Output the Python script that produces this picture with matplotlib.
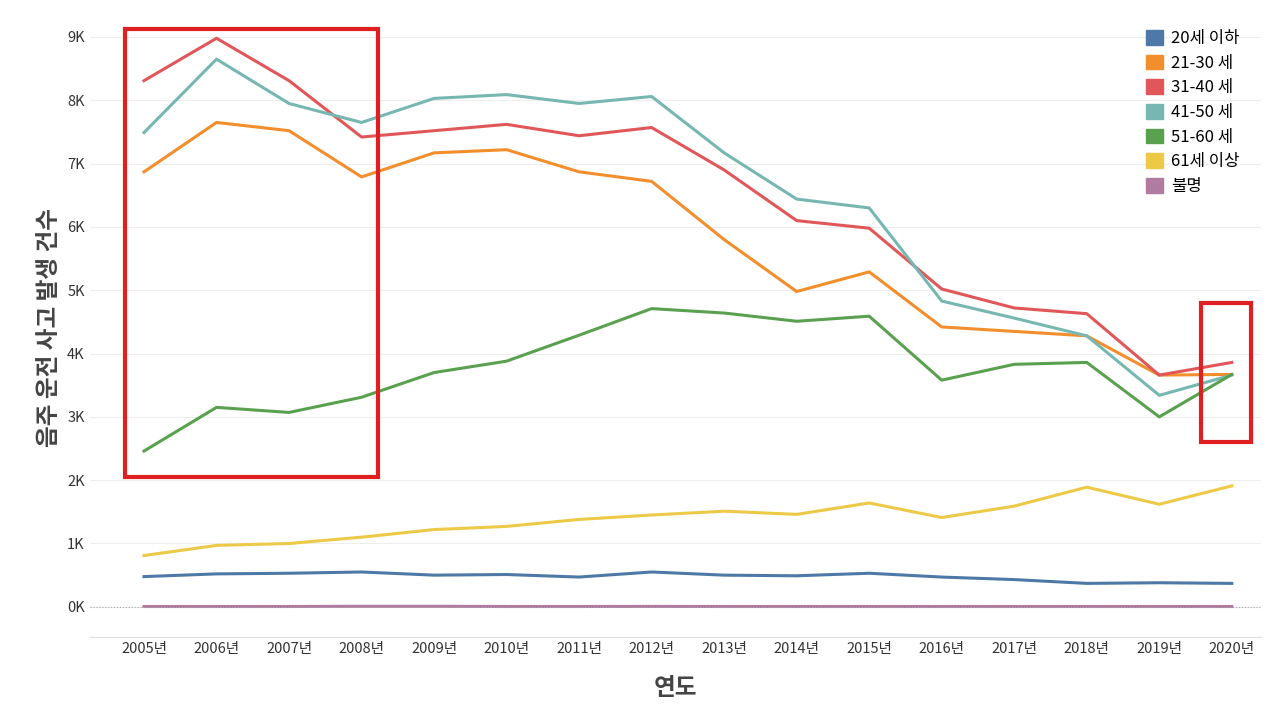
import matplotlib
matplotlib.use('Agg')
import matplotlib.pyplot as plt
from matplotlib.patches import Rectangle
from matplotlib.ticker import FuncFormatter

plt.rcParams['font.family'] = ['Noto Sans CJK KR', 'DejaVu Sans']

years = list(range(2005, 2021))
year_labels = [f'{y}년' for y in years]

age_20 = [477, 520, 530, 550, 500, 510, 470, 550, 500, 490, 530, 470, 430, 370, 380, 370]
age_21_30 = [6870, 7650, 7520, 6790, 7170, 7220, 6870, 6720, 5800, 4980, 5290, 4420, 4350, 4280, 3660, 3670]
age_31_40 = [8310, 8980, 8310, 7420, 7520, 7620, 7440, 7570, 6900, 6100, 5980, 5020, 4720, 4630, 3660, 3860]
age_41_50 = [7490, 8650, 7950, 7650, 8030, 8090, 7950, 8060, 7170, 6440, 6300, 4830, 4560, 4280, 3340, 3660]
age_51_60 = [2460, 3150, 3070, 3310, 3700, 3880, 4290, 4710, 4640, 4510, 4590, 3580, 3830, 3860, 3000, 3670]
age_61 = [810, 970, 1000, 1100, 1220, 1270, 1380, 1450, 1510, 1460, 1640, 1410, 1590, 1890, 1620, 1910]
unknown = [5, 5, 5, 8, 8, 5, 5, 6, 5, 5, 5, 5, 5, 5, 5, 5]

series = [
  ('20세 이하', age_20, '#4e79a7'),
  ('21-30 세', age_21_30, '#f28e2b'),
  ('31-40 세', age_31_40, '#e15759'),
  ('41-50 세', age_41_50, '#76b7b2'),
  ('51-60 세', age_51_60, '#59a14f'),
  ('61세 이상', age_61, '#edc948'),
  ('불명', unknown, '#b07aa1'),
]

fig = plt.figure(figsize=(12.8, 7.2), dpi=100)
ax = fig.add_axes([0.07, 0.115, 0.915, 0.86])

for name, vals, color in series:
  ax.plot(years, vals, color=color, lw=2.2, label=name)

ax.set_xlim(2004.25, 2020.4)
ax.set_ylim(-480, 9300)
ax.set_yticks(range(0, 9001, 1000))
ax.yaxis.set_major_formatter(FuncFormatter(lambda v, p: f'{int(v / 1000)}K'))
ax.set_xticks(years)
ax.set_xticklabels(year_labels)
ax.tick_params(length=0, labelsize=10.5, colors='#333333')
ax.grid(axis='y', color='#eeeeee', lw=0.8)
ax.axhline(0, color='#aaaaaa', lw=0.8, ls=':')
for s in ['top', 'right', 'left']:
  ax.spines[s].set_visible(False)
ax.spines['bottom'].set_color('#dddddd')

ax.set_xlabel('연도', fontsize=17, fontweight='bold', color='#444444', labelpad=14)
ax.set_ylabel('음주 운전 사고 발생 건수', fontsize=17, fontweight='bold', color='#444444')

handles = [Rectangle((0, 0), 1, 1, color=c) for _, _, c in series]
leg = ax.legend(handles, [n for n, _, _ in series], loc='upper right', bbox_to_anchor=(0.995, 1.005),
  frameon=False, fontsize=12, handlelength=1.0, handleheight=1.0, handletextpad=0.5, labelspacing=0.45)

# 강조 박스
fig.patches.append(Rectangle((125 / 1280, 1 - 477 / 720), 253 / 1280, 448 / 720,
  transform=fig.transFigure, fill=False, edgecolor='#e02020', lw=3))
fig.patches.append(Rectangle((1201 / 1280, 1 - 442 / 720), 50 / 1280, 139 / 720,
  transform=fig.transFigure, fill=False, edgecolor='#e02020', lw=3))

fig.savefig('out.png', dpi=100)
